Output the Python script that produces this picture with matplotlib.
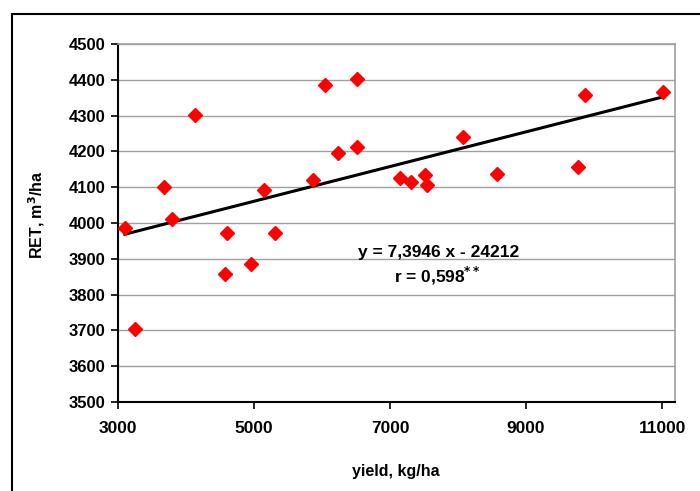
import numpy as np
import matplotlib
matplotlib.use("Agg")
import matplotlib.pyplot as plt
from matplotlib.patches import Rectangle

# yield, kg/ha
yield_kg = [3100, 3250, 3670, 3800, 4130, 4600, 4570, 4950, 5140, 5310,
            5860, 6050, 6240, 6520, 6520, 7140, 7310, 7520, 7550, 8080,
            8580, 9760, 9860, 11010]
# RET, m3/ha
ret = [3987, 3704, 4100, 4012, 4302, 3971, 3858, 3886, 4091, 3971,
       4121, 4386, 4196, 4402, 4212, 4125, 4115, 4134, 4106, 4241,
       4136, 4156, 4358, 4367]

x_ticks = [3000, 5000, 7000, 9000, 11000]
y_ticks = list(range(3500, 4501, 100))

plt.rcParams["font.family"] = ["Liberation Sans", "DejaVu Sans"]
plt.rcParams["font.weight"] = "bold"

W, H = 700, 491
fig = plt.figure(figsize=(7, 4.91), dpi=100)
ax = fig.add_axes([118 / W, 1 - 402 / H, 557 / W, 358 / H])

# outer chart frame (runs off the right/bottom edge)
fig.patches.append(Rectangle((12 / W, -0.05), 1.2, 1 - 14 / H + 0.05,
                             transform=fig.transFigure, fill=False,
                             edgecolor="black", linewidth=1.5))

ax.yaxis.grid(True, color="#a0a0a0", linewidth=1.0)
ax.set_axisbelow(True)

# trend line (RET on yield) across the data range
k, b = np.polyfit(yield_kg, ret, 1)
xs = np.array([min(yield_kg), max(yield_kg)])
ax.plot(xs, k * xs + b, color="black", linewidth=2.2, zorder=3)

ax.plot(yield_kg, ret, linestyle="none", marker="D", markersize=7.5,
        color="#ff0000", markeredgecolor="#ff0000", zorder=4)

ax.set_xlim(3000, 11190)
ax.set_ylim(3500, 4500)
ax.set_xticks(x_ticks)
ax.set_yticks(y_ticks)
ax.tick_params(axis="both", direction="out", length=5, width=1.2, pad=4)
ax.tick_params(axis="x", labelsize=12.5, pad=9)
ax.tick_params(axis="y", labelsize=12)
for lab in ax.get_xticklabels() + ax.get_yticklabels():
    lab.set_fontweight("bold")

for side in ("left", "bottom"):
    ax.spines[side].set_color("black")
    ax.spines[side].set_linewidth(1.5)
for side in ("top", "right"):
    ax.spines[side].set_color("#a0a0a0")
    ax.spines[side].set_linewidth(1.2)

ax.set_xlabel("yield, kg/ha", fontsize=11.5, fontweight="bold")
ax.xaxis.set_label_coords((396 - 118) / 557, (402 - 464) / 358)
ax.set_ylabel("RET, m$^\\mathbf{3}$/ha", fontsize=11.5, fontweight="bold")
ax.yaxis.set_label_coords((47 - 118) / 557, (402 - 215) / 358)

fig.text(439 / W, 1 - 252 / H, "y = 7,3946 x - 24212", fontsize=12.5,
         fontweight="bold", ha="center", va="center")
fig.text(437 / W, 1 - 276 / H, "r = 0,598$^{\\mathbf{**}}$", fontsize=12.5,
         fontweight="bold", ha="center", va="center")

fig.savefig("out.png", dpi=100)
